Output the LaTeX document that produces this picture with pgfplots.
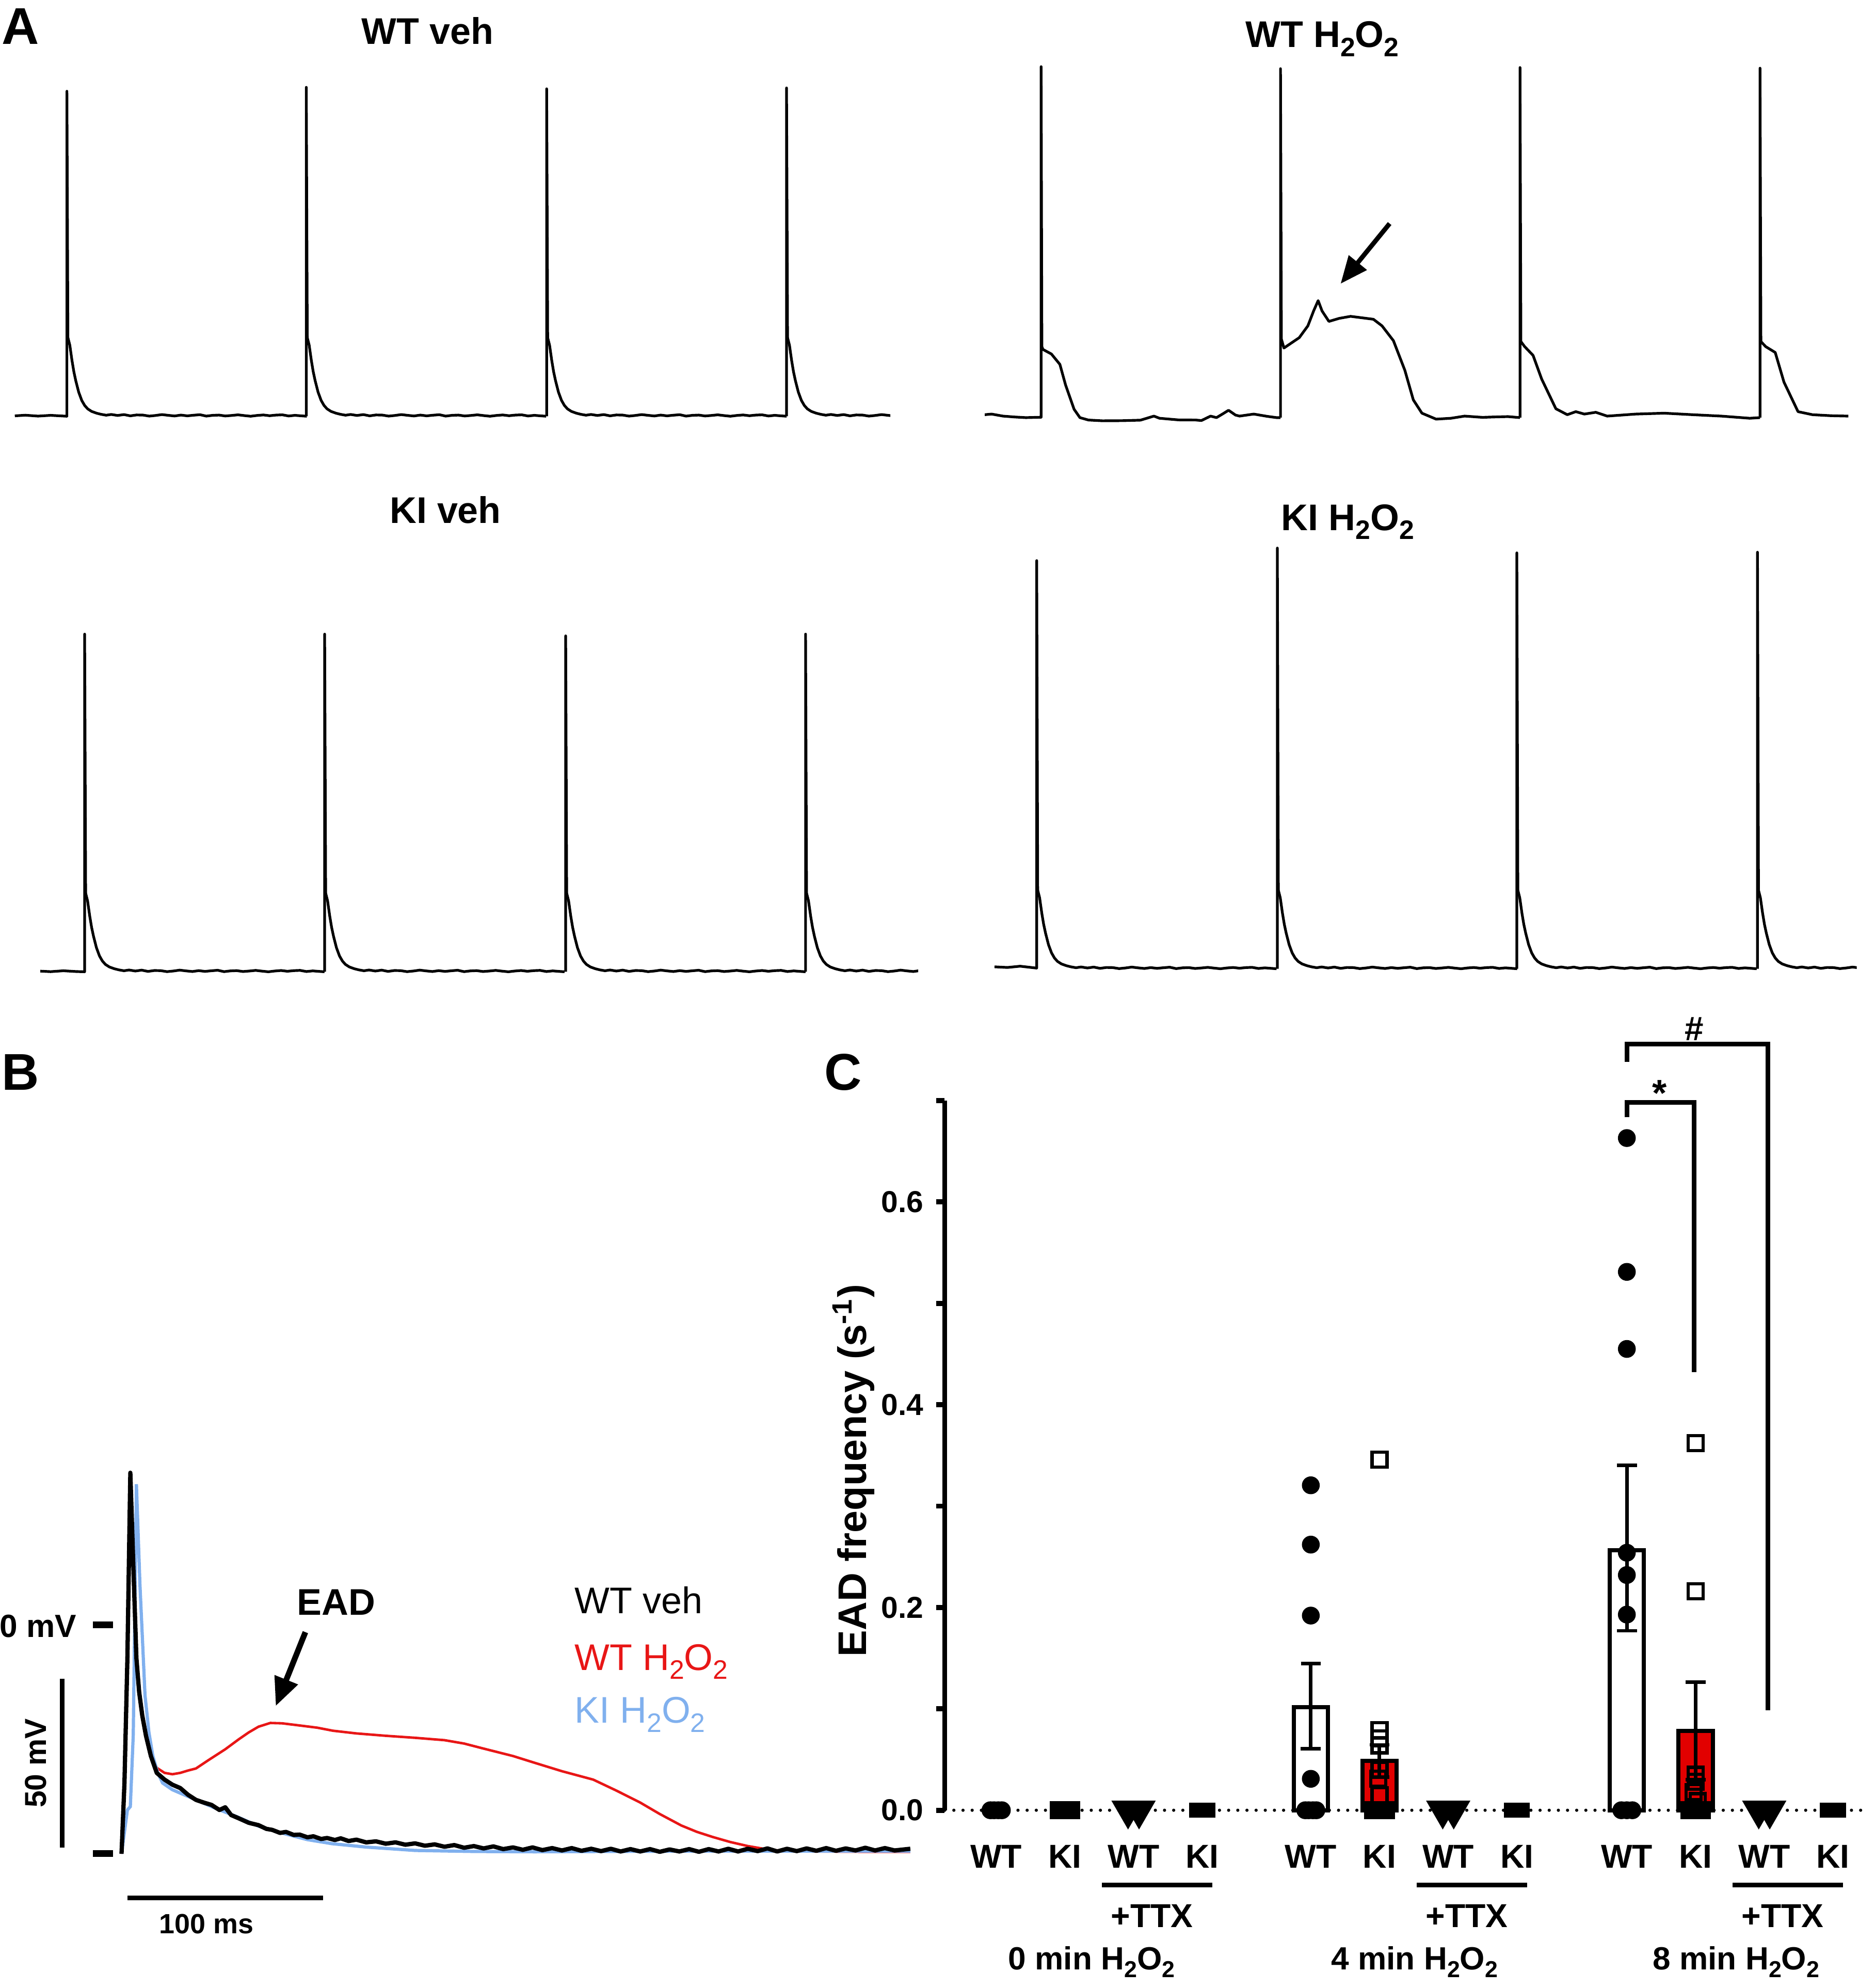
\documentclass[border=0pt]{standalone}
\usepackage{fontspec}
\setmainfont{Liberation Sans}
\setsansfont{Liberation Sans}
\usepackage{graphicx}
\usepackage{pgfplots}
\pgfplotsset{compat=1.18}
\usepackage{pgfplotstable}
\usetikzlibrary{arrows.meta}

\definecolor{trRed}{RGB}{232,22,22}
\definecolor{trBlue}{RGB}{128,176,238}
\definecolor{barRed}{RGB}{226,0,0}
\newcommand{\fs}[1]{\fontsize{#1}{#1}\selectfont}
\newcommand{\sub}[1]{\raisebox{-0.24em}{\scalebox{0.72}{#1}}}
\tikzset{trace/.style={black, line width=0.75pt, line join=round, mark=none}}

% ---------- Panel A: action potential template (dx, height above baseline) ----------
\pgfplotstableread{
dx h
0.8 62
2.3 56
4 44
5.5 35
7 28
9.3 19
11.7 12.5
14 8.5
16.4 5.8
19.5 3.8
23.4 2.4
27 1.5
31 0.8
35 1.4
40 0.6
45 1.3
50 0.3
55 1.0
60 0.9
65 0.1
70 0.6
75 1.3
80 0.7
85 0.2
90 0.9
95 0.3
100 0.8
105 1.2
110 0.1
115 0.7
120 0.9
125 0.2
130 0.6
135 1.1
140 0.5
145 0.0
150 0.6
155 1.0
160 0.4
165 0.9
170 1.1
175 0.2
180 0.7
185 0.3
189.3 0
}\apT

% ---------- Panel B traces (ms, mV) ----------
\pgfplotstableread{
t v
0 -68
1.5 -47
3 -10
4.5 45
6 18
7.6 -10
9 -20
10.6 -27
12.5 -33
15 -39
18 -44
22 -46
26 -47.5
30 -48.5
34 -50.5
38 -52
42 -52.8
46 -53.5
50 -55
53 -54.2
56 -56.5
60 -57.5
65 -58.8
70 -59.5
74 -60.6
77 -60.9
81 -61.8
84 -61.5
88 -62.4
91 -62.3
95 -63.1
98 -62.8
102 -63.6
105 -63.3
109 -63.9
112 -63.4
116 -64.2
120 -63.8
125 -64.6
130 -64.3
135 -65
140 -64.6
145 -65.3
150 -64.9
155 -65.6
160 -65.2
165 -65.9
170 -65.4
175 -66.2
180 -65.7
185 -66.4
190 -65.8
195 -66.6
200 -66.1
205 -66.8
210 -66.1
215 -66.9
220 -66.3
225 -67
230 -66.3
235 -67.1
240 -66.5
245 -67.2
250 -66.5
255 -67.3
260 -66.6
265 -67.3
270 -66.6
275 -67.4
280 -66.7
285 -67.3
290 -66.6
295 -67.4
300 -66.6
305 -67.3
310 -66.5
315 -67.3
320 -66.5
325 -67.2
330 -66.4
335 -67.3
340 -66.5
345 -67.2
350 -66.4
355 -67.1
360 -66.3
365 -67.1
370 -66.4
375 -67
380 -66.2
385 -67
390 -66.3
395 -67
403 -66.5
}\blackB

\pgfplotstableread{
t v
0 -68
1.5 -50
3 -12
4.5 44
6 17
7.6 -10
10.6 -27
15 -38
18 -42.5
22 -44
26 -44.4
30 -44
34 -43.3
38 -42.7
45 -40
53 -37
60 -34
65 -32
70 -30.3
76 -29.2
82 -29.3
89 -29.8
100 -30.6
108 -31.5
120 -32.3
135 -33
150 -33.6
165 -34.3
175 -35.3
185 -36.8
200 -39
211 -41
225 -43.5
241 -46
253 -49.3
265 -52.8
275 -56.2
286 -59.6
294 -61.5
302 -63
311 -64.5
320 -65.7
332 -66.9
350 -67.3
380 -67.4
403 -67.4
}\redB

\pgfplotstableread{
t v
0 -68
3 -55
4.5 -54
6 -32.6
7.6 41.6
9.4 12
12 -21
14 -32
16 -39
18.5 -44
21 -47
26 -49
32 -50.5
38 -52
48 -54.5
59 -57
70 -59.8
83 -62
95 -63.8
107.6 -65
125 -66
150 -67
180 -67.3
211 -67.4
250 -67.3
301 -67.2
403 -67.2
}\blueB

% ---------- Panel C points ----------
\pgfplotstableread{
x y
-0.083 0
-0.03 0
0.03 0
0.083 0
4.58 0.3205
4.58 0.262
4.58 0.192
4.58 0.031
4.50 0
4.55 0
4.61 0
4.66 0
9.18 0.663
9.18 0.531
9.18 0.455
9.18 0.254
9.18 0.232
9.18 0.193
9.10 0
9.18 0
9.26 0
}\wtpts

\pgfplotstableread{
x y
0.91 0
0.94 0
0.97 0
1.0 0
1.03 0
1.06 0
1.09 0
5.58 0.346
5.58 0.079
5.58 0.071
5.58 0.064
5.58 0.040
5.56 0.031
5.58 0.015
5.49 0
5.52 0
5.55 0
5.58 0
5.61 0
5.64 0
5.67 0
10.18 0.362
10.18 0.216
10.18 0.035
10.18 0.028
10.15 0.018
10.21 0.009
10.09 0
10.12 0
10.15 0
10.18 0
10.21 0
10.24 0
10.27 0
}\kipts

\pgfplotstableread{
x y
1.92 0
2.08 0
6.50 0
6.66 0
11.10 0
11.26 0
}\ttxwt

\pgfplotstableread{
x y
2.918 0
3.0 0
3.082 0
7.498 0
7.58 0
7.662 0
12.098 0
12.18 0
12.262 0
}\ttxki

\begin{document}
\begin{tikzpicture}
\path[use as bounding box] (0,0) rectangle (18.4875cm,19.6cm);
\begin{scope}[yshift=19.6cm, x=0.0125cm, y=-0.0125cm, every node/.style={inner sep=0pt}]
 \coordinate (pA1) at (11.7,338.4);
 \coordinate (pA2) at (777.1,339.5);
 \coordinate (pA3) at (31.8,776.7);
 \coordinate (pA4) at (784.8,774.3);
 \coordinate (pB) at (95.9,1467.9);
 \coordinate (pC) at (745.5,1428.2);
 % panel letters
 \node[anchor=base west, font=\fs{14.5}\bfseries] at (1,35) {A};
 \node[anchor=base west, font=\fs{14.5}\bfseries] at (1,860) {B};
 \node[anchor=base west, font=\fs{14.5}\bfseries] at (650,860) {C};
 % panel A titles
 \node[anchor=base, font=\fs{10.4}\bfseries] at (337.5,35) {WT veh};
 \node[anchor=base, font=\fs{10.4}\bfseries] at (1043.5,37.4) {WT H\sub{2}O\sub{2}};
 \node[anchor=base, font=\fs{10.4}\bfseries] at (351.5,412.6) {KI veh};
 \node[anchor=base, font=\fs{10.4}\bfseries] at (1063.5,418.5) {KI H\sub{2}O\sub{2}};
 \draw[line width=1.3pt, -{Triangle[length=0.27cm,width=0.22cm]}] (1096.6,176.4) -- (1057.9,223.9);
 % panel B annotations
 \node[anchor=base west, font=\fs{10.4}\bfseries] at (234,1274.3) {EAD};
 \draw[line width=1.6pt, -{Triangle[length=0.28cm,width=0.235cm]}] (241,1287.7) -- (217.6,1346);
 \node[anchor=base west, font=\fs{10.4}] at (453,1272.8) {WT veh};
 \node[anchor=base west, font=\fs{10.4}, text=trRed] at (453,1317.6) {WT H\sub{2}O\sub{2}};
 \node[anchor=base west, font=\fs{10.4}, text=trBlue] at (453,1359.5) {KI H\sub{2}O\sub{2}};
 \node[anchor=base east, font=\fs{9}\bfseries] at (61,1291.5) {0 mV};
 \draw[line width=1.9pt] (73.5,1281.8) -- (89.3,1281.8);
 \draw[line width=1.9pt] (73.5,1462.4) -- (89.3,1462.4);
 \draw[line width=1.2pt] (49.1,1324.4) -- (49.1,1457.6);
 \node[rotate=90, font=\fs{8.5}\bfseries] at (28.1,1391) {50 mV};
 \draw[line width=1.3pt] (100.5,1497.5) -- (255,1497.5);
 \node[anchor=base, font=\fs{7.8}\bfseries] at (162.8,1525.5) {100 ms};
\end{scope}

% ================= Panel A traces =================
\begin{axis}[at={(pA1)}, anchor=south west, x=0.0125cm, y=0.0125cm,
  xmin=11.7, xmax=702.6, ymin=-10, ymax=266, hide axis]
\addplot[trace] coordinates {(11.7,0.3)(20,0.8)(30,0.1)(40,0.7)(52.8,0)(52.8,256.4)(53.6,62)};
\addplot[trace] table[x expr=\thisrow{dx}+52.8, y=h]{\apT};
\addplot[trace] coordinates {(241.7,0)(241.7,259.5)(242.5,62)};
\addplot[trace] table[x expr=\thisrow{dx}+241.7, y=h]{\apT};
\addplot[trace] coordinates {(431.4,0)(431.4,258.3)(432.2,62)};
\addplot[trace] table[x expr=\thisrow{dx}+431.4, y=h]{\apT};
\addplot[trace] coordinates {(620.7,0)(620.7,259)(621.5,62)};
\addplot[trace] table[x expr=\thisrow{dx}+620.7, y=h]{\apT};
\end{axis}

\begin{axis}[at={(pA2)}, anchor=south west, x=0.0125cm, y=0.0125cm,
  xmin=777.1, xmax=1458.7, ymin=-10, ymax=282, hide axis]
\addplot[trace] coordinates {(777.1,2.3)(782.5,2.8)(791.5,1.2)(800.5,0.5)(809.5,0)(821.6,0.3)
 (821.6,276.9)(822.2,56)(823,53.8)(829.7,50.2)(836.4,42)(840.9,25.7)(847.6,6.6)(852.2,0)
 (858.9,-1.9)(870,-2.5)(885.6,-2.4)(900,-2)(910.6,1.2)(915,-0.5)(930,-1.8)(943.6,-1.9)
 (948.1,-2.3)(955.3,1.2)(960,0)(965,3)(969.5,5.8)(975,2)(978.2,1.2)(989.4,2.8)(1000,1)(1007.4,0)(1010.5,0)};
\addplot[trace] coordinates {(1010.5,0)(1010.5,275.3)(1011.2,62)(1013.2,54.9)(1025.3,63.1)(1032.1,72.4)
 (1036.6,84.1)(1040.2,92.3)(1043.3,84.1)(1048.7,75.9)(1056.8,78.3)(1065.8,79.9)(1083.8,77.6)
 (1090.6,72.4)(1099.6,60.7)(1108.6,37.4)(1115.3,14)(1122.1,3.5)(1133.3,-1.2)(1145,-0.5)
 (1155.8,1.2)(1170,0.2)(1178.3,0.5)(1190,0.8)(1199.5,0)};
\addplot[trace] coordinates {(1199.5,0)(1199.5,276.2)(1200.2,60)(1203.1,56.1)(1209.8,49.1)(1216.6,30.4)
 (1227.8,7)(1236.8,2.3)(1243.5,4.7)(1250.3,2.8)(1259.3,4.2)(1268.3,1.2)(1290.8,2.8)(1313.3,3.5)
 (1335.8,2.3)(1358.3,1.2)(1380.8,-0.5)(1388.9,0)};
\addplot[trace] coordinates {(1388.9,0)(1388.9,275.7)(1389.6,60)(1393.4,56)(1400.9,51.4)(1407.8,28)
 (1418.9,4.7)(1430.3,2.3)(1445,1.5)(1458.6,1.2)};
\end{axis}

\begin{axis}[at={(pA3)}, anchor=south west, x=0.0125cm, y=0.0125cm,
  xmin=31.8, xmax=724.6, ymin=-10, ymax=272, hide axis]
\addplot[trace] coordinates {(31.8,0.5)(40,0.1)(50,0.8)(60,0.2)(66.8,0)(66.8,266.4)(67.6,62)};
\addplot[trace] table[x expr=\thisrow{dx}+66.8, y=h]{\apT};
\addplot[trace] coordinates {(256.2,0)(256.2,266.4)(257,62)};
\addplot[trace] table[x expr=\thisrow{dx}+256.2, y=h]{\apT};
\addplot[trace] coordinates {(446.4,0)(446.4,265)(447.2,62)};
\addplot[trace] table[x expr=\thisrow{dx}+446.4, y=h]{\apT};
\addplot[trace] coordinates {(635.7,0)(635.7,266.4)(636.5,62)};
\addplot[trace] table[x expr=\thisrow{dx}+635.7, y=h]{\apT};
\end{axis}

\begin{axis}[at={(pA4)}, anchor=south west, x=0.0125cm, y=0.0125cm,
  xmin=784.8, xmax=1465.2, ymin=-10, ymax=337, hide axis]
\addplot[trace] coordinates {(784.8,1.5)(795,1)(805,2)(812,1.2)(818.1,0.5)(818.1,322)(818.9,62)};
\addplot[trace] table[x expr=\thisrow{dx}+818.1, y=h]{\apT};
\addplot[trace] coordinates {(1008,0)(1008,331.9)(1008.8,62)};
\addplot[trace] table[x expr=\thisrow{dx}+1008, y=h]{\apT};
\addplot[trace] coordinates {(1197,0)(1197,328.1)(1197.8,62)};
\addplot[trace] table[x expr=\thisrow{dx}+1197, y=h]{\apT};
\addplot[trace] coordinates {(1386.9,0)(1386.9,328.6)(1387.7,62)};
\addplot[trace] table[x expr=\thisrow{dx}+1386.9, y=h]{\apT};
\end{axis}

% ================= Panel B =================
\begin{axis}[at={(pB)}, anchor=south west, x=0.0193cm, y=0.03325cm,
  xmin=0, xmax=403, ymin=-70, ymax=50, hide axis, clip=false]
\addplot[trRed, line width=0.7pt, mark=none] table[x=t, y=v]{\redB};
\addplot[trBlue, line width=0.9pt, mark=none] table[x=t, y=v]{\blueB};
\addplot[black, line width=1.2pt, mark=none, line join=round] table[x=t, y=v]{\blackB};
\end{axis}

% ================= Panel C =================
\begin{axis}[at={(pC)}, anchor=south west, x=0.6775cm, y=9.996cm,
  xmin=-0.749, xmax=12.71, ymin=0, ymax=0.7,
  axis x line=none, axis y line=left, axis line style={-, line width=1.4pt},
  ytick={0,0.2,0.4,0.6}, minor ytick={0.1,0.3,0.5,0.7},
  tick align=outside, major tick length=0.086cm, minor tick length=0.086cm,
  tick style={black, line width=1.4pt},
  yticklabel style={font=\fs{8.5}\bfseries, /pgf/number format/.cd, fixed, fixed zerofill, precision=1, assume math mode=true},
  clip=false]
\addplot[black, line width=0.9pt, dash pattern=on 0pt off 2.57pt, line cap=round, mark=none]
  coordinates {(-0.749,0) (12.71,0)};
% bars with SEM
\addplot[ybar, bar width=0.5, bar shift=0pt, fill=white, draw=black, line width=1.17pt,
  error bars/.cd, y dir=both, y explicit,
  error bar style={line width=1pt, black},
  error mark options={rotate=90, mark size=2.8pt, line width=1pt, black}]
  coordinates {(4.58,0.1018) += (0,0.0428) -= (0,0.041)
               (9.18,0.2566) += (0,0.0834) -= (0,0.0796)};
\addplot[ybar, bar width=0.5, bar shift=0pt, fill=barRed, draw=black, line width=1.17pt,
  error bars/.cd, y dir=both, y explicit,
  error bar style={line width=1pt, black},
  error mark options={rotate=90, mark size=2.8pt, line width=1pt, black}]
  coordinates {(5.58,0.0485) += (0,0.016) -= (0,0.016)
               (10.18,0.0783) += (0,0.0481) -= (0,0.0481)};
% individual points
\addplot[only marks, mark=*, mark size=2.3pt, black] table[x=x, y=y]{\wtpts};
\addplot[only marks, mark=square, mark size=2.1pt, black, mark options={line width=0.9pt}] table[x=x, y=y]{\kipts};
\addplot[only marks, mark=triangle*, mark size=5pt, black, mark options={rotate=180}] table[x=x, y=y]{\ttxwt};
\addplot[only marks, mark=square*, mark size=1.86pt, black] table[x=x, y=y]{\ttxki};
% significance brackets
\addplot[black, line width=1.3pt, mark=none] coordinates {(9.18,0.6835)(9.18,0.6983)(10.16,0.6983)(10.16,0.4322)};
\addplot[black, line width=1.3pt, mark=none] coordinates {(9.18,0.738)(9.18,0.7555)(11.23,0.7555)(11.23,0.0985)};
\node[anchor=north, inner sep=0pt, font=\fs{10.5}\bfseries] at (axis cs:9.66,0.7208) {*};
\node[inner sep=0pt, font=\fs{9.5}\bfseries] at (axis cs:10.16,0.7705) {\#};
% category labels
\node[anchor=base, inner sep=0pt, font=\fs{9.3}\bfseries] at (axis cs:0,-0.0569) {WT};
\node[anchor=base, inner sep=0pt, font=\fs{9.3}\bfseries] at (axis cs:1,-0.0569) {KI};
\node[anchor=base, inner sep=0pt, font=\fs{9.3}\bfseries] at (axis cs:2,-0.0569) {WT};
\node[anchor=base, inner sep=0pt, font=\fs{9.3}\bfseries] at (axis cs:3,-0.0569) {KI};
\node[anchor=base, inner sep=0pt, font=\fs{9.3}\bfseries] at (axis cs:4.58,-0.0569) {WT};
\node[anchor=base, inner sep=0pt, font=\fs{9.3}\bfseries] at (axis cs:5.58,-0.0569) {KI};
\node[anchor=base, inner sep=0pt, font=\fs{9.3}\bfseries] at (axis cs:6.58,-0.0569) {WT};
\node[anchor=base, inner sep=0pt, font=\fs{9.3}\bfseries] at (axis cs:7.58,-0.0569) {KI};
\node[anchor=base, inner sep=0pt, font=\fs{9.3}\bfseries] at (axis cs:9.18,-0.0569) {WT};
\node[anchor=base, inner sep=0pt, font=\fs{9.3}\bfseries] at (axis cs:10.18,-0.0569) {KI};
\node[anchor=base, inner sep=0pt, font=\fs{9.3}\bfseries] at (axis cs:11.18,-0.0569) {WT};
\node[anchor=base, inner sep=0pt, font=\fs{9.3}\bfseries] at (axis cs:12.18,-0.0569) {KI};
% +TTX underlines and labels
\draw[line width=1.35pt] (axis cs:1.54,-0.0739) -- (axis cs:3.15,-0.0739);
\draw[line width=1.35pt] (axis cs:6.12,-0.0739) -- (axis cs:7.73,-0.0739);
\draw[line width=1.35pt] (axis cs:10.72,-0.0739) -- (axis cs:12.33,-0.0739);
\node[anchor=base, inner sep=0pt, font=\fs{9.3}\bfseries] at (axis cs:2.27,-0.1153) {+TTX};
\node[anchor=base, inner sep=0pt, font=\fs{9.3}\bfseries] at (axis cs:6.85,-0.1153) {+TTX};
\node[anchor=base, inner sep=0pt, font=\fs{9.3}\bfseries] at (axis cs:11.45,-0.1153) {+TTX};
\node[anchor=base, inner sep=0pt, font=\fs{9}\bfseries] at (axis cs:1.39,-0.1573) {0 min H\sub{2}O\sub{2}};
\node[anchor=base, inner sep=0pt, font=\fs{9}\bfseries] at (axis cs:6.09,-0.1573) {4 min H\sub{2}O\sub{2}};
\node[anchor=base, inner sep=0pt, font=\fs{9}\bfseries] at (axis cs:10.77,-0.1573) {8 min H\sub{2}O\sub{2}};
% y label
\node[rotate=90, inner sep=0pt, font=\fs{11.2}\bfseries] at (axis cs:-2.074,0.335) {EAD frequency (s\textsuperscript{-1})};
\end{axis}
\end{tikzpicture}
\end{document}
